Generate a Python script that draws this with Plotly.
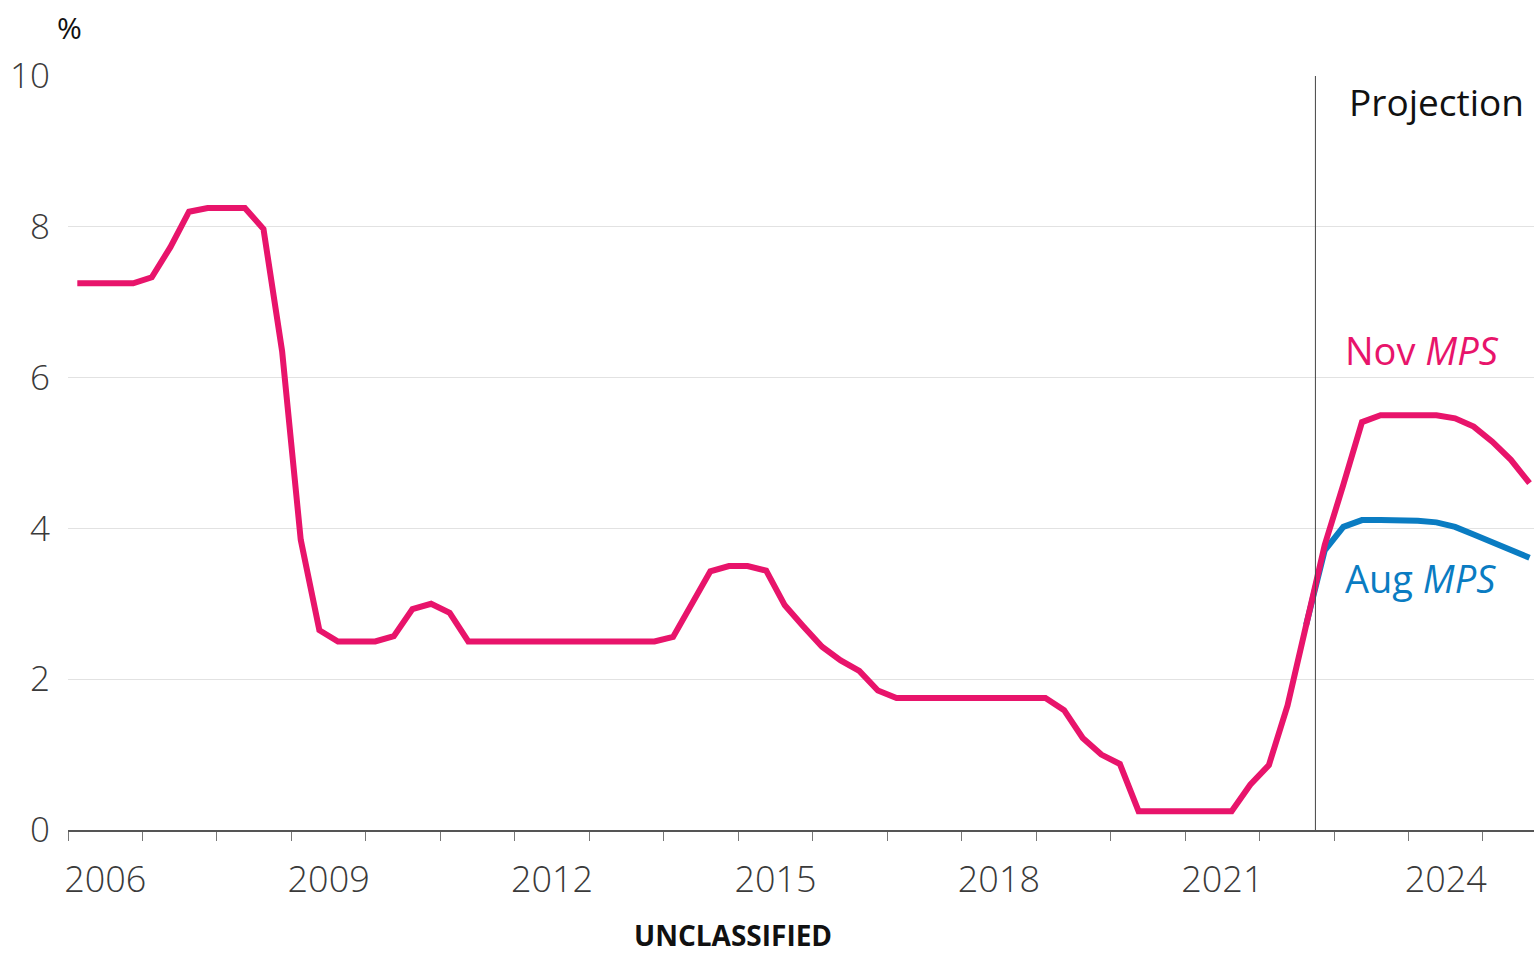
import pandas as pd
import plotly.graph_objects as go

# Quarterly series, starting 2006 Q1
start_quarter = "2006Q1"

nov_mps = [
    7.25, 7.25, 7.25, 7.25, 7.33, 7.73, 8.20, 8.25, 8.25, 8.25,
    7.97, 6.35, 3.85, 2.65, 2.50, 2.50, 2.50, 2.57, 2.93, 3.00,
    2.88, 2.50, 2.50, 2.50, 2.50, 2.50, 2.50, 2.50, 2.50, 2.50,
    2.50, 2.50, 2.56, 3.00, 3.43, 3.50, 3.50, 3.44, 2.98, 2.70,
    2.43, 2.25, 2.11, 1.85, 1.75, 1.75, 1.75, 1.75, 1.75, 1.75,
    1.75, 1.75, 1.75, 1.59, 1.22, 1.00, 0.875, 0.25, 0.25, 0.25,
    0.25, 0.25, 0.25, 0.60, 0.86, 1.65, 2.72, 3.78, 4.58, 5.41,
    5.50, 5.50, 5.50, 5.50, 5.46, 5.35, 5.15, 4.91, 4.60,
]

# August projection begins in 2022 Q3
aug_start_quarter = "2022Q3"
aug_mps = [2.72, 3.71, 4.02, 4.11, 4.11, 4.11, 4.10, 4.08, 4.02, 3.92, 3.82, 3.72, 3.61]

projection_start = 2022.75
year_labels = [2006, 2009, 2012, 2015, 2018, 2021, 2024]
y_ticks = [0, 2, 4, 6, 8, 10]

PINK = "#E8146B"
BLUE = "#0A7CC2"
FONT = "Open Sans"


def quarter_midpoints(first, n):
    periods = pd.period_range(first, periods=n, freq="Q")
    return [p.year + (p.quarter - 0.5) / 4 for p in periods]


x_nov = quarter_midpoints(start_quarter, len(nov_mps))
x_aug = quarter_midpoints(aug_start_quarter, len(aug_mps))

fig = go.Figure()
fig.add_trace(go.Scatter(x=x_aug, y=aug_mps, mode="lines",
                         line=dict(color=BLUE, width=6), name="Aug MPS"))
fig.add_trace(go.Scatter(x=x_nov, y=nov_mps, mode="lines",
                         line=dict(color=PINK, width=6), name="Nov MPS"))

fig.add_shape(type="line", xref="x", yref="y",
              x0=projection_start, x1=projection_start, y0=0, y1=10,
              line=dict(color="#444444", width=1))

fig.update_layout(
    width=1534, height=955,
    margin=dict(l=68, r=0, t=76, b=125),
    plot_bgcolor="white", paper_bgcolor="white",
    showlegend=False,
    font=dict(family=FONT, color="#333333"),
    xaxis=dict(
        range=[2006, 2025.685],
        tickmode="array",
        tickvals=[y + 0.5 for y in year_labels],
        ticktext=[str(y) for y in year_labels],
        ticks="outside", ticklen=0, tickcolor="rgba(0,0,0,0)",
        ticklabelstandoff=17,
        tickfont=dict(size=36, color="#3a3a3a", weight=300),
        showgrid=False, zeroline=False,
        showline=True, linecolor="#555555", linewidth=1.5,
        minor=dict(tickmode="array", tickvals=list(range(2006, 2026)),
                   ticks="outside", ticklen=9, tickcolor="#777777",
                   tickwidth=1, showgrid=False),
    ),
    yaxis=dict(
        range=[0, 10],
        tickmode="array", tickvals=y_ticks,
        ticktext=[str(v) for v in y_ticks],
        tickfont=dict(size=35, color="#3a3a3a", weight=300),
        ticklabelstandoff=17,
        showgrid=True, gridcolor="#e2e2e2", gridwidth=1,
        zeroline=False, showline=False, ticks="",
    ),
)

annotations = [
    dict(text="%", x=69, y=28, size=30, color="#111111", anchor="center", v="middle"),
    dict(text="Projection", x=1348, y=102, size=37, color="#111111", anchor="left", v="middle"),
    dict(text="Nov <i>MPS</i>", x=1344, y=350, size=38, color=PINK, anchor="left", v="middle"),
    dict(text="Aug <i>MPS</i>", x=1344, y=578, size=38, color=BLUE, anchor="left", v="middle"),
    dict(text="<b>UNCLASSIFIED</b>", x=733, y=955, size=28, color="#111111", anchor="center", v="bottom"),
]

plot_left, plot_width = 68, 1534 - 68
plot_top, plot_height = 76, 955 - 76 - 125
for a in annotations:
    fig.add_annotation(
        text=a["text"], showarrow=False,
        xref="paper", yref="paper",
        x=(a["x"] - plot_left) / plot_width,
        y=(plot_top + plot_height - a["y"]) / plot_height,
        xanchor=a["anchor"], yanchor=a["v"], borderpad=0,
        font=dict(family=FONT, size=a["size"], color=a["color"]),
    )

fig.write_html("out.html")
